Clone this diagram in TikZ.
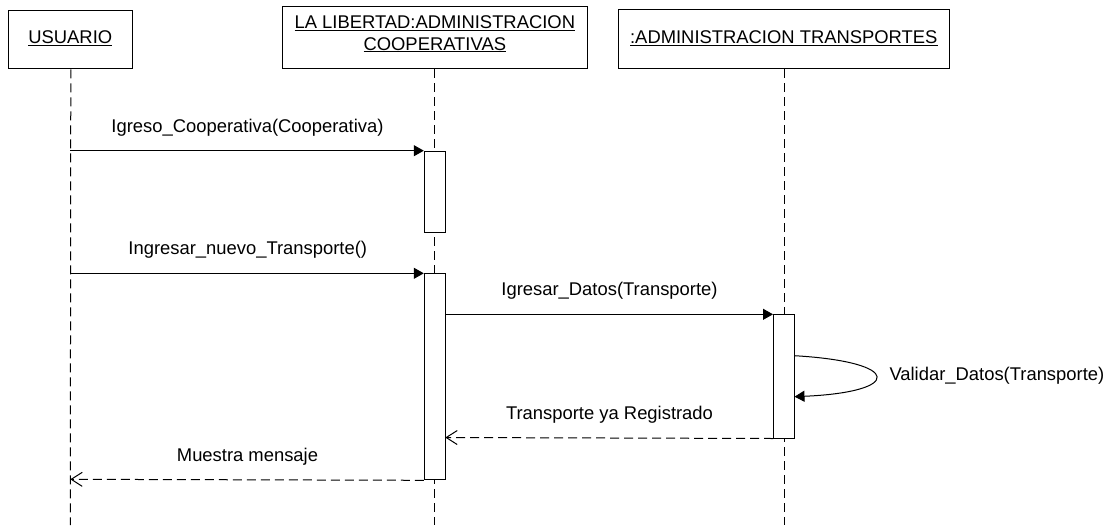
\documentclass[tikz,border=0pt]{standalone}
\usepackage{fontspec}
\setmainfont{Liberation Sans}
\usetikzlibrary{arrows.meta}
\tikzset{
  txt/.style={font=\fontsize{18.4}{21.7}\selectfont, inner sep=0pt, anchor=base},
  objbox/.style={draw, line width=1pt, inner sep=0pt, anchor=north west},
  actbox/.style={draw, fill=white, line width=1pt, inner sep=0pt, minimum width=21pt, anchor=north},
  lifeline/.style={line width=1pt, dash pattern=on 9pt off 5pt},
  callmsg/.style={line width=1pt, -{Triangle[length=10pt,width=11pt]}},
  retmsg/.style={line width=1pt, dash pattern=on 9pt off 5pt, -{Straight Barb[length=11pt,width=14pt,line width=1pt]}}
}
\begin{document}
\begin{tikzpicture}[x=1pt,y=-1pt]
\useasboundingbox (0,0) rectangle (1113,525);
% object boxes
\node[objbox, minimum width=124pt, minimum height=58.3pt] (usr) at (8.3,10) {};
\node[objbox, minimum width=305pt, minimum height=62.6pt] (lib) at (282.3,5.7) {};
\node[objbox, minimum width=331pt, minimum height=59pt] (adm) at (618.3,9.3) {};
\node[txt] (usrT) at (70.3,43.3) {\underline{USUARIO}};
\node[txt] (libT1) at (434.8,28.3) {\underline{LA LIBERTAD:ADMINISTRACION}};
\node[txt] (libT2) at (434.8,50) {\underline{COOPERATIVAS}};
\node[txt] (admT) at (783.8,43.3) {\underline{:ADMINISTRACION TRANSPORTES}};
% lifeline ends
\coordinate (usrE) at (70.3,525);
\coordinate (libE) at (434.8,525);
\coordinate (admE) at (784,525);
\draw[lifeline] (usr.south) -- (usrE);
\draw[lifeline] (lib.south -| libE) -- (libE);
\draw[lifeline] (adm.south -| admE) -- (admE);
% activations
\node[actbox, minimum height=81.6pt] (a1) at (434.8,150.7) {};
\node[actbox, minimum height=206pt] (a2) at (434.8,273.3) {};
\node[actbox, minimum height=123.2pt] (a3) at (784,314.3) {};
% message anchors on lifelines
\coordinate (u1) at (70.3,150.7);
\coordinate (u2) at (70.3,273.3);
\coordinate (s3) at (445.3,314.3);
\coordinate (l1) at (794.5,355.7);
\coordinate (l2) at (794.5,396.7);
\coordinate (r1) at (445.3,437.5);
\coordinate (r2) at (70.3,479.3);
% messages
\draw[callmsg] (u1) -- (a1.north west);
\draw[callmsg] (u2) -- (a2.north west);
\draw[callmsg] (s3) -- (a3.north west);
\draw[callmsg] (l1) .. controls (903,362) and (903,392) .. (l2);
\draw[retmsg] (a3.south west) -- (r1);
\draw[retmsg] (a2.south west) -- (r2);
% labels
\node[txt] (m1) at (247.5,132.2) {Igreso\_Cooperativa(Cooperativa)};
\node[txt] (m2) at (247.8,254.8) {Ingresar\_nuevo\_Transporte()};
\node[txt] (m3) at (609.5,295.8) {Igresar\_Datos(Transporte)};
\node[txt, anchor=base west] (m4) at (889.3,380.7) {Validar\_Datos(Transporte)};
\node[txt] (m5) at (609.5,419.5) {Transporte ya Registrado};
\node[txt] (m6) at (247.5,461) {Muestra mensaje};
\end{tikzpicture}
\end{document}
